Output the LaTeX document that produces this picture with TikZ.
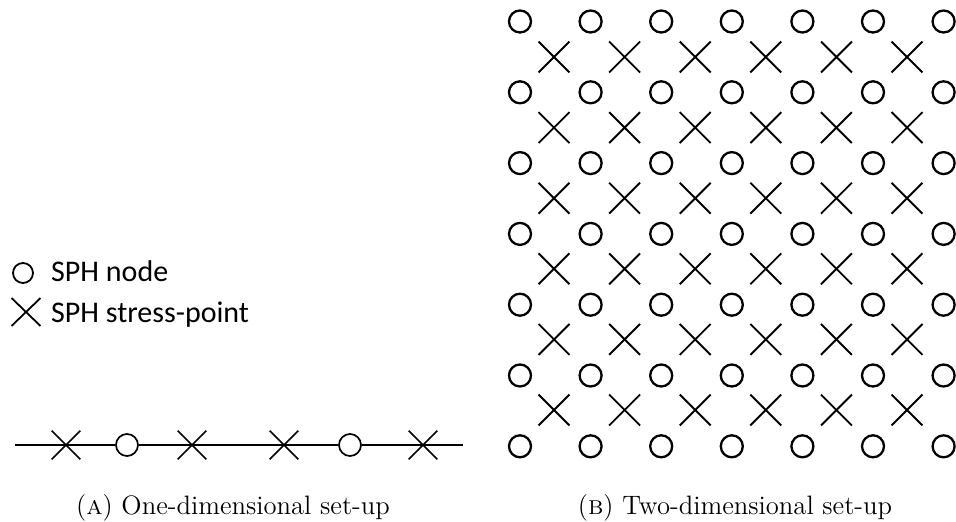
\documentclass[tikz,border=0pt]{standalone}
\usepackage{fontspec}
\usepackage{graphicx}
\newfontfamily\legendfont{Carlito}
\usetikzlibrary{shapes.misc}
% caption text at 12pt optical size, enlarged to the picture scale
\newcommand{\capscale}[1]{\scalebox{2.22}{\fontsize{12}{14}\selectfont #1}}
\begin{document}
\begin{tikzpicture}[x=1pt,y=-1pt,
  sphnode/.style={circle,draw,line width=2.3pt,inner sep=0pt,minimum size=22pt},
  sphstress/.style={cross out,draw,line width=1.9pt,inner sep=0pt,minimum size=29pt},
  linenode/.style={circle,draw,line width=1.7pt,inner sep=0pt,minimum size=22pt},
  linestress/.style={cross out,draw,line width=1.7pt,inner sep=0pt,minimum width=27pt,minimum height=27pt},
  legnode/.style={circle,draw,line width=1.8pt,inner sep=0pt,minimum size=20pt},
  legstress/.style={cross out,draw,line width=1.8pt,inner sep=0pt,minimum width=27pt,minimum height=26pt},
  legtext/.style={anchor=base west,inner sep=0pt,font=\legendfont\fontsize{30}{34}\selectfont},
  caption/.style={anchor=base,inner sep=0pt},
  bar/.style={line width=1.7pt}]
\useasboundingbox (0,0) rectangle (956,522);

% legend
\node[legnode] (lcirc) at (23,273) {};
\node[legtext] (ltxt1) at (51,281) {SPH node};
\node[legstress] (lcross) at (26,312) {};
\node[legtext] (ltxt2) at (51,322) {SPH stress-point};

% one-dimensional row
\coordinate (lstart) at (15,445);
\coordinate (lend) at (463,445);
\node[linestress] (a1) at (66,445) {};
\node[linenode]   (a2) at (127,445) {};
\node[linestress] (a3) at (192,445) {};
\node[linestress] (a4) at (284,445) {};
\node[linenode]   (a5) at (350,445) {};
\node[linestress] (a6) at (423,445) {};
\draw[bar] (lstart) -- (a1.center) -- (a2);
\draw[bar] (a2) -- (a3.center) -- (a4.center) -- (a5);
\draw[bar] (a5) -- (a6.center) -- (lend);

% two-dimensional lattice
\foreach \i in {0,...,6}
  \foreach \j in {0,...,6}
    \node[sphnode] (n-\i-\j) at ({520+70.6*\i},{21.5+70.8*\j}) {};
\foreach \i in {0,...,5}
  \foreach \j in {0,...,5}
    \node[sphstress] (s-\i-\j) at ({554+70.6*\i},{57+70.6*\j}) {};

% captions
\node[caption] (capa) at (233,514) {\capscale{(\textsc{a}) One-dimensional set-up}};
\node[caption] (capb) at (735,514) {\capscale{(\textsc{b}) Two-dimensional set-up}};
\end{tikzpicture}
\end{document}
